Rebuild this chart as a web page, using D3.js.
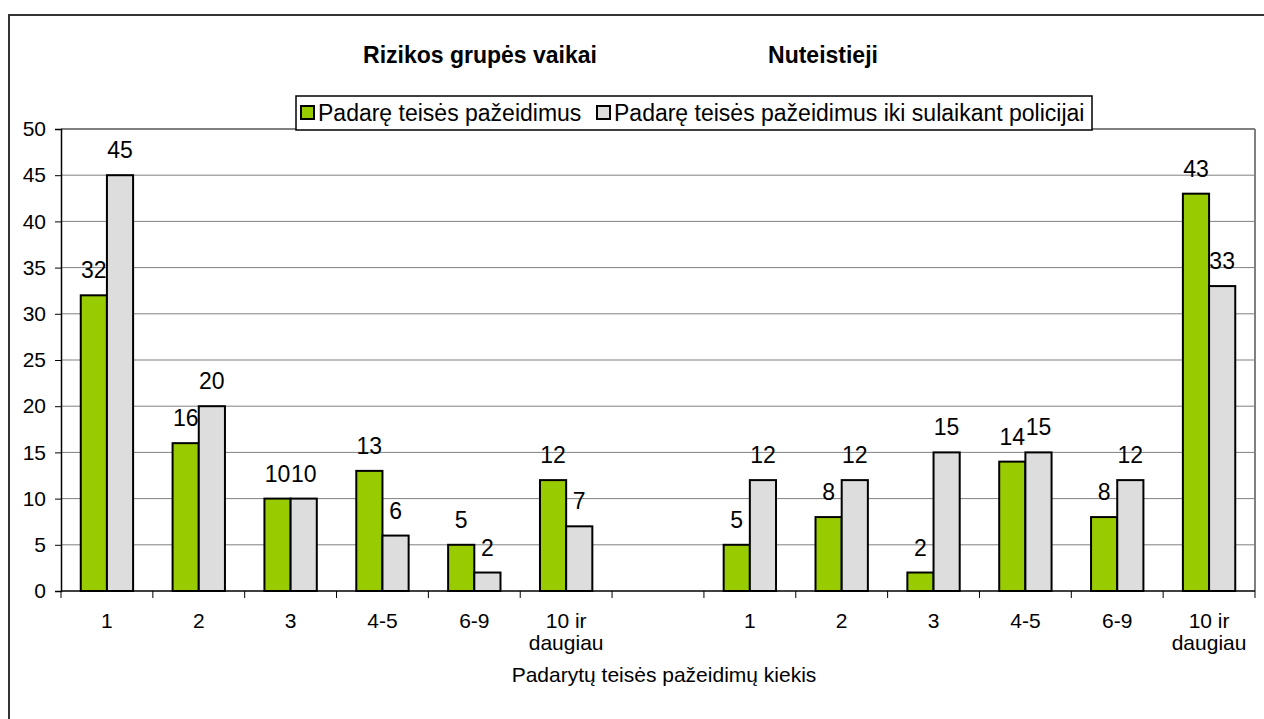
<!DOCTYPE html>
<html>
<head>
<meta charset="utf-8">
<script src="https://cdn.jsdelivr.net/npm/d3@7"></script>
<style>
  body { margin: 0; background: #fff; }
  svg { font-family: "Liberation Sans", Arial, sans-serif; }
</style>
</head>
<body>
<div id="chart"></div>
<script>
'use strict';

// categories (empty slot separates the two groups)
var categories = ['1', '2', '3', '4-5', '6-9', '10 ir\ndaugiau', '', '1', '2', '3', '4-5', '6-9', '10 ir\ndaugiau'];
var seriesNames = ['Padarę teisės pažeidimus', 'Padarę teisės pažeidimus iki sulaikant policijai'];
var greenValues = [32, 16, 10, 13, 5, 12, null, 5, 8, 2, 14, 8, 43];
var grayValues = [45, 20, 10, 6, 2, 7, null, 12, 12, 15, 15, 12, 33];
var groupTitles = ['Rizikos grupės vaikai', 'Nuteistieji'];
var yTicks = [0, 5, 10, 15, 20, 25, 30, 35, 40, 45, 50];
var xTitle = 'Padarytų teisės pažeidimų kiekis';

var width = 1264,
    height = 719;

var plot = { left: 61, right: 1255, top: 129, bottom: 591 };
var colors = ['#99cc00', '#dddddd'];

var svg = d3.select('#chart').append('svg')
    .attr('width', width)
    .attr('height', height);

// outer chart border
svg.append('rect')
    .attr('x', 9).attr('y', 15)
    .attr('width', 1300).attr('height', 800)
    .attr('fill', 'none')
    .attr('stroke', '#333')
    .attr('stroke-width', 2);

var x = d3.scaleBand()
    .domain(d3.range(categories.length))
    .range([plot.left, plot.right])
    .paddingInner(0)
    .paddingOuter(0);

var y = d3.scaleLinear()
    .domain([0, 50])
    .range([plot.bottom, plot.top]);

var barW = x.bandwidth() * 0.285;
var gap = (x.bandwidth() - barW * 2) / 2;

// gridlines
svg.append('g')
    .selectAll('line')
    .data(yTicks.filter(function(d) { return d > 0; }))
    .enter()
    .append('line')
    .attr('x1', plot.left).attr('x2', plot.right)
    .attr('y1', function(d) { return y(d); })
    .attr('y2', function(d) { return y(d); })
    .attr('stroke', '#808080')
    .attr('stroke-width', function(d) { return d === 50 ? 2 : 1; });

// plot area right border
svg.append('line')
    .attr('x1', plot.right).attr('x2', plot.right)
    .attr('y1', plot.top).attr('y2', plot.bottom)
    .attr('stroke', '#808080')
    .attr('stroke-width', 2);

// bars
var series = [greenValues, grayValues];
series.forEach(function(vals, s) {
    var pts = vals.map(function(v, i) { return { i: i, v: v }; })
        .filter(function(d) { return d.v !== null; });

    svg.append('g')
        .selectAll('rect')
        .data(pts)
        .enter()
        .append('rect')
        .attr('x', function(d) { return x(d.i) + gap + s * barW; })
        .attr('y', function(d) { return y(d.v); })
        .attr('width', barW)
        .attr('height', function(d) { return y(0) - y(d.v); })
        .attr('fill', colors[s])
        .attr('stroke', '#000')
        .attr('stroke-width', 2);

    svg.append('g')
        .selectAll('text')
        .data(pts)
        .enter()
        .append('text')
        .attr('x', function(d) { return x(d.i) + gap + s * barW + barW / 2; })
        .attr('y', function(d) { return y(d.v) - 17; })
        .attr('text-anchor', 'middle')
        .attr('font-size', 23)
        .attr('fill', '#000')
        .text(function(d) { return d.v; });
});

// y axis
var yAxis = svg.append('g')
    .attr('transform', 'translate(' + plot.left + ',0)')
    .call(d3.axisLeft(y).tickValues(yTicks).tickSize(6).tickPadding(9));
yAxis.selectAll('text').attr('font-size', 21).attr('fill', '#000')
    .attr('font-family', '"Liberation Sans", Arial, sans-serif');
yAxis.selectAll('line').attr('stroke', '#000');
yAxis.select('.domain').attr('stroke', '#000').attr('stroke-width', 1.5);

// x axis
var xg = svg.append('g')
    .attr('transform', 'translate(0,' + plot.bottom + ')');
xg.append('line')
    .attr('x1', plot.left).attr('x2', plot.right)
    .attr('stroke', '#000').attr('stroke-width', 1.5);
xg.selectAll('line.tick')
    .data(d3.range(categories.length + 1))
    .enter()
    .append('line')
    .attr('class', 'tick')
    .attr('x1', function(d) { return plot.left + d * x.step(); })
    .attr('x2', function(d) { return plot.left + d * x.step(); })
    .attr('y1', 0).attr('y2', 7)
    .attr('stroke', '#000');
xg.selectAll('text')
    .data(categories)
    .enter()
    .append('text')
    .attr('text-anchor', 'middle')
    .attr('font-size', 21)
    .attr('fill', '#000')
    .each(function(d, i) {
        var t = d3.select(this);
        d.split('\n').forEach(function(part, k) {
            t.append('tspan')
                .attr('x', x(i) + x.bandwidth() / 2)
                .attr('y', 37 + k * 22)
                .text(part);
        });
    });

// x axis title
svg.append('text')
    .attr('x', 664).attr('y', 682)
    .attr('text-anchor', 'middle')
    .attr('font-size', 21)
    .text(xTitle);

// group titles
var titleX = [480, 823];
svg.selectAll('text.gtitle')
    .data(groupTitles)
    .enter()
    .append('text')
    .attr('class', 'gtitle')
    .attr('x', function(d, i) { return titleX[i]; })
    .attr('y', 63)
    .attr('text-anchor', 'middle')
    .attr('font-size', 23)
    .attr('font-weight', 'bold')
    .text(function(d) { return d; });

// legend
var legend = svg.append('g');
legend.append('rect')
    .attr('x', 296).attr('y', 96)
    .attr('width', 796).attr('height', 34)
    .attr('fill', '#fff')
    .attr('stroke', '#000')
    .attr('stroke-width', 1.5);
var legX = [301, 597];
seriesNames.forEach(function(name, i) {
    legend.append('rect')
        .attr('x', legX[i]).attr('y', 106)
        .attr('width', 13).attr('height', 13)
        .attr('fill', colors[i])
        .attr('stroke', '#000')
        .attr('stroke-width', 2);
    legend.append('text')
        .attr('x', legX[i] + 17).attr('y', 121)
        .attr('font-size', 23)
        .text(name);
});
</script>
</body>
</html>
